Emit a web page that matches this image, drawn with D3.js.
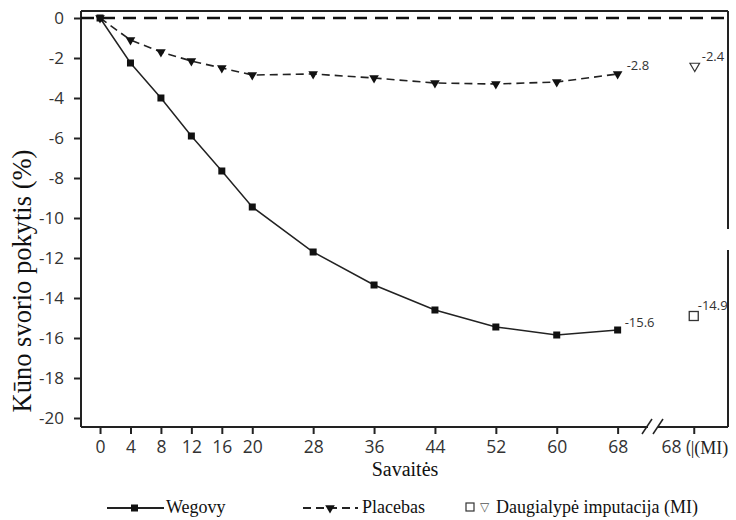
<!DOCTYPE html>
<html>
<head>
<meta charset="utf-8">
<script src="https://cdn.jsdelivr.net/npm/d3@7"></script>
<style>
  body { margin: 0; background: #fff; }
  svg { display: block; }
</style>
</head>
<body>
<svg id="chart" width="736" height="520"></svg>
<script>
// weeks of the study
const weeks = [0, 4, 8, 12, 16, 20, 28, 36, 44, 52, 60, 68];
const wegovy = [0, -2.25, -4.0, -5.9, -7.65, -9.45, -11.7, -13.35, -14.6, -15.45, -15.85, -15.6];
const placebo = [0, -1.1, -1.7, -2.15, -2.5, -2.85, -2.8, -3.0, -3.25, -3.3, -3.2, -2.8];
// multiple imputation values, drawn after the axis break
const miWeek = 78;
const miWegovy = -14.9;
const miPlacebo = -2.4;
const yTicks = [0, -2, -4, -6, -8, -10, -12, -14, -16, -18, -20];

const svg = d3.select("#chart");
const plotLeft = 81, plotRight = 728, plotTop = 11, plotBottom = 427;

const x = d3.scaleLinear().domain([-2.5, 82.5]).range([plotLeft, plotRight]);
const y = d3.scaleLinear().domain([0, -20]).range([18, 418]);

const sans = "'Open Sans', 'Noto Sans', sans-serif";
const serif = "'Liberation Serif', 'DejaVu Serif', serif";

// frame
const frame = svg.append("g").attr("stroke", "#222").attr("stroke-width", 2).attr("fill", "none");
frame.append("line").attr("x1", plotLeft).attr("x2", plotRight).attr("y1", plotTop).attr("y2", plotTop);
frame.append("line").attr("x1", plotLeft).attr("x2", plotLeft).attr("y1", plotTop).attr("y2", plotBottom);
frame.append("line").attr("x1", plotRight).attr("x2", plotRight).attr("y1", plotTop).attr("y2", 229);
frame.append("line").attr("x1", plotRight).attr("x2", plotRight).attr("y1", 250).attr("y2", plotBottom);
frame.append("line").attr("x1", plotLeft).attr("x2", 648).attr("y1", plotBottom).attr("y2", plotBottom);
frame.append("line").attr("x1", 658).attr("x2", plotRight).attr("y1", plotBottom).attr("y2", plotBottom);
// axis break
frame.append("line").attr("x1", 642).attr("y1", 434).attr("x2", 652).attr("y2", 419).attr("stroke-width", 1.5);
frame.append("line").attr("x1", 653).attr("y1", 434).attr("x2", 663).attr("y2", 419).attr("stroke-width", 1.5);

// y axis (plain hyphen minus like the original)
const yAxis = svg.append("g")
  .attr("transform", `translate(${plotLeft},0)`)
  .call(d3.axisLeft(y).tickValues(yTicks).tickSize(7).tickPadding(10).tickFormat(d => String(d)));
yAxis.select(".domain").remove();
yAxis.selectAll("line").attr("stroke", "#222").attr("stroke-width", 2);
yAxis.selectAll("text").attr("font-family", sans).attr("font-size", 17).attr("fill", "#333");

// x axis
const xAxis = svg.append("g")
  .attr("transform", `translate(0,${plotBottom})`)
  .call(d3.axisBottom(x).tickValues(weeks.concat([miWeek])).tickSize(7).tickPadding(7)
    .tickFormat(d => d === miWeek ? "68 (" : String(d)));
xAxis.select(".domain").remove();
xAxis.selectAll("line").attr("stroke", "#222").attr("stroke-width", 2);
xAxis.selectAll("text").attr("font-family", sans).attr("font-size", 17.5).attr("fill", "#333");
xAxis.selectAll("text").filter(d => d === miWeek).attr("text-anchor", "end").attr("dx", -3);
svg.append("text")
  .attr("x", x(miWeek) - 3).attr("y", 454)
  .attr("font-family", serif).attr("font-size", 18).attr("fill", "#222")
  .text("|(MI)");

// zero reference line
svg.append("line")
  .attr("x1", plotLeft).attr("x2", plotRight).attr("y1", y(0)).attr("y2", y(0))
  .attr("stroke", "#111").attr("stroke-width", 2.5).attr("stroke-dasharray", "13,8");

// lines
const line = d3.line().x(d => x(d[0])).y(d => y(d[1]));
const wegData = weeks.map((w, i) => [w, wegovy[i]]);
const plaData = weeks.map((w, i) => [w, placebo[i]]);

svg.append("path").datum(plaData).attr("d", line)
  .attr("fill", "none").attr("stroke", "#222").attr("stroke-width", 1.6).attr("stroke-dasharray", "8,5");
svg.append("path").datum(wegData).attr("d", line)
  .attr("fill", "none").attr("stroke", "#222").attr("stroke-width", 1.5);

const tri = d3.symbol().type(d3.symbolTriangle).size(40);
svg.append("g").selectAll("path").data(plaData).enter().append("path")
  .attr("d", tri)
  .attr("transform", d => `translate(${x(d[0])},${y(d[1])}) rotate(180)`)
  .attr("fill", "#111");
svg.append("g").selectAll("rect").data(wegData).enter().append("rect")
  .attr("x", d => x(d[0]) - 3.5).attr("y", d => y(d[1]) - 3.5)
  .attr("width", 7).attr("height", 7).attr("fill", "#111");

// MI markers
svg.append("rect")
  .attr("x", x(miWeek) - 4.5).attr("y", y(miWegovy) - 4.5).attr("width", 9).attr("height", 9)
  .attr("fill", "#fff").attr("stroke", "#333").attr("stroke-width", 1.3);
svg.append("path").attr("d", tri)
  .attr("transform", `translate(${x(miWeek) + 1},${y(miPlacebo)}) rotate(180)`)
  .attr("fill", "#fff").attr("stroke", "#333").attr("stroke-width", 1.2);

// end labels
const lab = (xx, yy, t) => svg.append("text").attr("x", xx).attr("y", yy)
  .attr("font-family", sans).attr("font-size", 13).attr("fill", "#333").text(t);
lab(x(68) + 9, y(placebo[11]) - 4, "-2.8");
lab(x(68) + 7, y(wegovy[11]) - 3, "-15.6");
lab(x(miWeek) + 8, y(miPlacebo) - 5, "-2.4");
lab(x(miWeek) + 4, y(miWegovy) - 6, "-14.9");

// axis titles
svg.append("text")
  .attr("transform", "translate(31,281) rotate(-90)")
  .attr("text-anchor", "middle")
  .attr("font-family", serif).attr("font-size", 26.5).attr("fill", "#111")
  .text("Kūno svorio pokytis (%)");
svg.append("text")
  .attr("x", 405).attr("y", 476).attr("text-anchor", "middle")
  .attr("font-family", serif).attr("font-size", 20).attr("fill", "#111")
  .text("Savaitės");

// legend
const ly = 508;
const lg = svg.append("g").attr("font-family", serif).attr("font-size", 18).attr("fill", "#111");
lg.append("line").attr("x1", 107).attr("x2", 164).attr("y1", ly).attr("y2", ly)
  .attr("stroke", "#222").attr("stroke-width", 1.8);
lg.append("rect").attr("x", 131).attr("y", ly - 3.5).attr("width", 7).attr("height", 7).attr("fill", "#111");
lg.append("text").attr("x", 166).attr("y", ly + 5).text("Wegovy");
lg.append("line").attr("x1", 303).attr("x2", 358).attr("y1", ly).attr("y2", ly)
  .attr("stroke", "#222").attr("stroke-width", 1.8).attr("stroke-dasharray", "8,5");
lg.append("path").attr("d", tri).attr("transform", `translate(330,${ly}) rotate(180)`).attr("fill", "#111");
lg.append("text").attr("x", 362).attr("y", ly + 5).text("Placebas");
lg.append("rect").attr("x", 466).attr("y", ly - 5).attr("width", 8).attr("height", 8)
  .attr("fill", "#fff").attr("stroke", "#333").attr("stroke-width", 1.2);
lg.append("text").attr("x", 480).attr("y", ly + 3).attr("font-size", 12).attr("fill", "#555").text("▽");
lg.append("text").attr("x", 496).attr("y", ly + 5).text("Daugialypė imputacija (MI)");
</script>
</body>
</html>
